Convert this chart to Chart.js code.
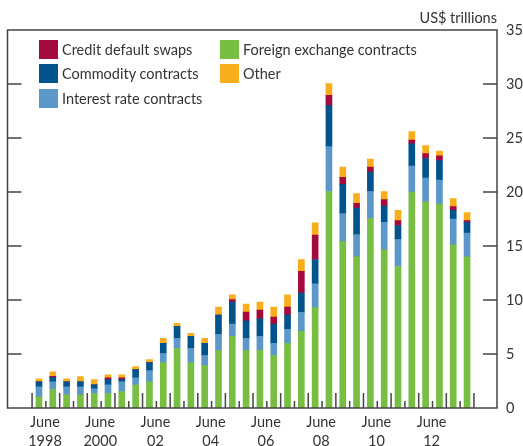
<!DOCTYPE html>
<html lang="en">
<head>
    <meta charset="UTF-8">
    <title>Derivatives gross market value</title>
    <script src="https://cdn.jsdelivr.net/npm/chart.js"></script>
    <style>
        body { margin: 0; background: #fff; font-family: Lato, "Noto Sans", sans-serif; color: #333; }
        #wrap { position: relative; width: 523px; height: 446px; }
        #unit { position: absolute; right: 26px; top: 9px; font-size: 14.5px; line-height: 18px; }
        #legend { position: absolute; left: 39px; top: 37px; display: grid;
                  grid-template-columns: 181px auto; grid-template-rows: repeat(3, 24.5px);
                  grid-auto-flow: column; font-size: 14.5px; }
        .item { display: flex; align-items: center; height: 24.5px; }
        .box { width: 19px; height: 19px; margin-right: 4px; }
    </style>
</head>
<body>
<div id="wrap">
    <canvas id="chart" width="523" height="446"></canvas>
    <div id="unit">US$ trillions</div>
    <div id="legend"></div>
</div>

<script>
    // half-yearly observations, June 1998 to December 2013
    const periods = [
        'Jun 1998', 'Dec 1998', 'Jun 1999', 'Dec 1999', 'Jun 2000', 'Dec 2000', 'Jun 2001', 'Dec 2001',
        'Jun 2002', 'Dec 2002', 'Jun 2003', 'Dec 2003', 'Jun 2004', 'Dec 2004', 'Jun 2005', 'Dec 2005',
        'Jun 2006', 'Dec 2006', 'Jun 2007', 'Dec 2007', 'Jun 2008', 'Dec 2008', 'Jun 2009', 'Dec 2009',
        'Jun 2010', 'Dec 2010', 'Jun 2011', 'Dec 2011', 'Jun 2012', 'Dec 2012', 'Jun 2013', 'Dec 2013'
    ];

    // US$ trillions
    const foreignExchange = [1.03, 1.71, 1.21, 1.21, 1.34, 1.34, 1.53, 2.15, 2.43, 4.2, 5.51, 4.2, 3.93, 5.33, 6.64, 5.33,
        5.33, 4.86, 5.98, 7.1, 9.3, 20.05, 15.4, 14.0, 17.55, 14.65, 13.1, 20.0, 19.1, 18.9, 15.1, 14.0];
    const interestRate = [0.93, 0.72, 0.75, 0.75, 0.44, 0.81, 0.9, 0.65, 1.03, 0.85, 0.94, 1.31, 0.93, 1.49, 1.12, 1.12,
        1.31, 1.12, 1.31, 1.75, 2.2, 4.15, 2.6, 2.05, 2.5, 2.55, 2.5, 2.4, 2.2, 2.2, 2.4, 2.2];
    const commodity = [0.47, 0.41, 0.47, 0.47, 0.37, 0.47, 0.19, 0.75, 0.74, 0.93, 1.12, 1.13, 1.12, 1.78, 2.05, 1.62,
        1.61, 1.78, 1.34, 1.8, 2.25, 3.8, 2.7, 2.45, 1.8, 1.5, 1.3, 2.05, 1.8, 1.8, 0.8, 1.0];
    const creditDefaultSwaps = [0, 0.09, 0, 0, 0, 0.18, 0.18, 0, 0, 0, 0, 0, 0, 0, 0.22, 0.81,
        0.82, 0.65, 0.72, 2.0, 2.25, 0.95, 0.65, 0.45, 0.45, 0.6, 0.45, 0.35, 0.45, 0.45, 0.35, 0.15];
    const other = [0.28, 0.43, 0.28, 0.47, 0.47, 0.28, 0.28, 0.28, 0.29, 0.47, 0.28, 0.28, 0.47, 0.75, 0.44, 0.75,
        0.74, 0.94, 1.12, 1.1, 1.15, 1.1, 0.95, 0.9, 0.75, 0.75, 0.95, 0.8, 0.75, 0.45, 0.75, 0.75];

    const xTickPeriods = ['Jun 1998', 'Jun 2000', 'Jun 2002', 'Jun 2004', 'Jun 2006', 'Jun 2008', 'Jun 2010', 'Jun 2012'];
    const xTickLabels = [['June', '1998'], ['June', '2000'], ['June', '02'], ['June', '04'],
        ['June', '06'], ['June', '08'], ['June', '10'], ['June', '12']];
    const yTicks = [0, 5, 10, 15, 20, 25, 30, 35];

    const toPoints = (values) => values.map((v, i) => ({ x: i, y: v }));

    const datasets = [
        { label: 'Foreign exchange contracts', data: toPoints(foreignExchange), backgroundColor: '#78be43' },
        { label: 'Interest rate contracts', data: toPoints(interestRate), backgroundColor: '#5b97c9' },
        { label: 'Commodity contracts', data: toPoints(commodity), backgroundColor: '#00548b' },
        { label: 'Credit default swaps', data: toPoints(creditDefaultSwaps), backgroundColor: '#a50a3d' },
        { label: 'Other', data: toPoints(other), backgroundColor: '#f8ad1d' }
    ];
    // legend reads down the columns
    const legendOrder = [3, 2, 1, 0, 4];

    const frameColor = '#444';

    // box round the plot, inward ticks on both y sides, half-year ticks along the bottom
    const framePlugin = {
        id: 'frame',
        afterDraw(chart) {
            const { ctx, chartArea: a, scales } = chart;
            ctx.save();
            ctx.strokeStyle = frameColor;
            ctx.lineWidth = 1.5;
            ctx.strokeRect(a.left, a.top, a.right - a.left, a.bottom - a.top);
            ctx.beginPath();
            yTicks.slice(1, -1).forEach(v => {
                const y = scales.y.getPixelForValue(v);
                ctx.moveTo(a.left, y); ctx.lineTo(a.left + 14, y);
                ctx.moveTo(a.right - 14, y); ctx.lineTo(a.right, y);
            });
            for (let i = 0; i <= periods.length; i++) {
                const x = scales.x.getPixelForValue(i - 0.5);
                ctx.moveTo(x, a.bottom);
                ctx.lineTo(x, a.bottom - (i % 2 === 0 ? 15 : 7));
            }
            ctx.stroke();
            ctx.restore();
        }
    };

    const ctx = document.getElementById('chart').getContext('2d');
    const chart = new Chart(ctx, {
        type: 'bar',
        data: { datasets: datasets },
        options: {
            responsive: false,
            animation: false,
            devicePixelRatio: 1,
            layout: { padding: { top: 30, left: 7.5, right: 0, bottom: 0 } },
            datasets: { bar: { barThickness: 6, borderWidth: 0 } },
            plugins: { legend: { display: false }, tooltip: { enabled: false } },
            scales: {
                x: {
                    type: 'linear',
                    stacked: true,
                    offset: false,
                    min: -2.28,
                    max: 33.17,
                    grid: { display: false, drawTicks: false },
                    border: { display: false },
                    afterBuildTicks: (scale) => {
                        scale.ticks = xTickPeriods.map(p => ({ value: periods.indexOf(p) }));
                    },
                    afterFit: (scale) => { scale.height = 38; },
                    ticks: {
                        autoSkip: false,
                        maxRotation: 0,
                        padding: 5,
                        labelOffset: 6,
                        color: '#333',
                        font: { family: 'Lato', size: 14.5, lineHeight: 1.3 },
                        callback: (value, index) => xTickLabels[index]
                    }
                },
                y: {
                    position: 'right',
                    stacked: true,
                    min: 0,
                    max: 35,
                    grid: { display: false, drawTicks: false },
                    border: { display: false },
                    afterBuildTicks: (scale) => { scale.ticks = yTicks.map(v => ({ value: v })); },
                    afterFit: (scale) => { scale.width = 26; },
                    ticks: {
                        padding: 9,
                        color: '#333',
                        font: { family: 'Lato', size: 14.5 }
                    }
                }
            }
        },
        plugins: [framePlugin]
    });

    // legend built from the datasets
    const legend = document.getElementById('legend');
    legendOrder.forEach(i => {
        const item = document.createElement('div');
        item.className = 'item';
        const box = document.createElement('span');
        box.className = 'box';
        box.style.background = datasets[i].backgroundColor;
        item.appendChild(box);
        item.appendChild(document.createTextNode(datasets[i].label));
        legend.appendChild(item);
    });
</script>
</body>
</html>
